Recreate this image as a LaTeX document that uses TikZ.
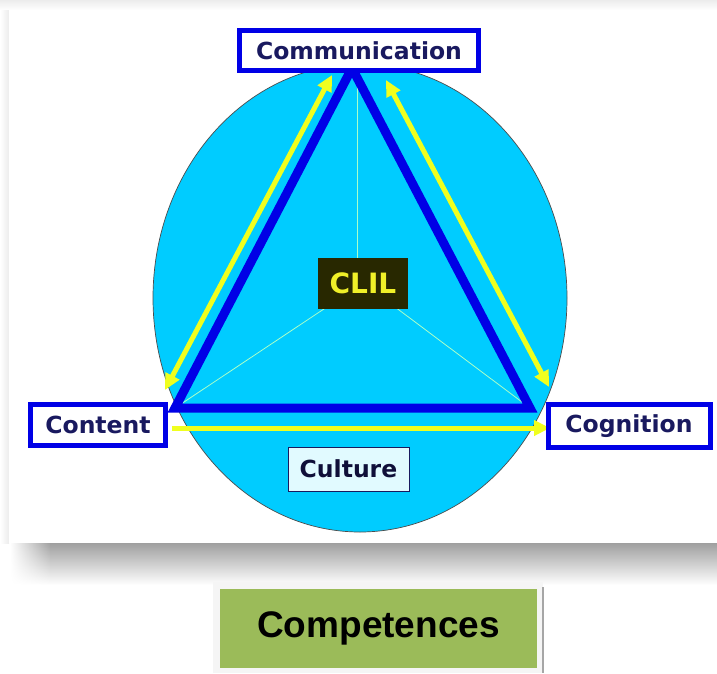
\documentclass[tikz,border=0pt]{standalone}
\usepackage{fontspec}
\usetikzlibrary{arrows.meta,fadings}
\newfontfamily\dv{DejaVu Sans}
\newfontfamily\lib{Liberation Sans}
\definecolor{cyanfill}{RGB}{0,204,255}
\definecolor{tblue}{RGB}{0,0,230}
\definecolor{navy}{RGB}{25,25,95}
\definecolor{ayellow}{RGB}{240,255,30}
\definecolor{paleline}{RGB}{170,255,200}
\definecolor{clilfill}{RGB}{40,40,0}
\definecolor{cliltext}{RGB}{240,240,40}
\definecolor{culturefill}{RGB}{225,250,255}
\definecolor{compgreen}{RGB}{155,187,89}
\tikzfading[name=fadeinright, left color=transparent!100, right color=transparent!0]
\tikzset{
  labelbox/.style={draw=tblue, line width=5pt, fill=white, text=navy,
    font=\dv\bfseries\fontsize{23.5}{23.5}\selectfont, inner sep=0pt},
  yarrow/.style={draw=ayellow, line width=5pt, {Triangle[length=16pt,width=15pt]}-{Triangle[length=16pt,width=15pt]}},
  yarrowone/.style={draw=ayellow, line width=5pt, -{Triangle[length=16pt,width=15pt]}},
  triside/.style={draw=tblue, line width=9pt, line join=miter},
  spoke/.style={draw=paleline, line width=0.8pt},
}
\begin{document}
\begin{tikzpicture}[x=1pt,y=-1pt]
\useasboundingbox (0,0) rectangle (717,673);
% card shadows
\shade[top color=gray!15, bottom color=white] (0,0) rectangle (717,10);
\shade[left color=white, right color=gray!15] (0,10) rectangle (9,543);
\shade[top color=gray!75, bottom color=white] (50,543) rectangle (717,585);
\shade[top color=gray!75, bottom color=white, path fading=fadeinright] (10,543) rectangle (50.5,585);
\fill[white] (9,10) rectangle (717,543);
% circle
\draw[fill=cyanfill, draw=black!70, line width=0.7pt] (360,298) ellipse [x radius=207, y radius=234];
% vertices and centre
\coordinate (apex) at (352,68);
\coordinate (vl) at (175,408);
\coordinate (vr) at (530,408);
\coordinate (ctr) at (363,283);
\draw[spoke] (357,68) -- (357,283);
\draw[spoke] (ctr) -- (vl);
\draw[spoke] (ctr) -- (vr);
% yellow arrows
\coordinate (ylA) at (165,390);
\coordinate (ylB) at (332,75);
\coordinate (yrA) at (386,80);
\coordinate (yrB) at (549,387);
\coordinate (ybA) at (172,428);
\coordinate (ybB) at (550,428);
\draw[yarrow] (ylA) -- (ylB);
\draw[yarrow] (yrA) -- (yrB);
\draw[yarrowone] (ybA) -- (ybB);
% triangle
\draw[triside] (apex) -- (vl) -- (vr) -- cycle;
% labels
\node[labelbox, minimum width=239pt, minimum height=40pt] (comm) at (359,50.5) {Communication};
\node[labelbox, minimum width=135pt, minimum height=41pt] (cont) at (98,425) {Content};
\node[labelbox, minimum width=162pt, minimum height=43pt] (cogn) at (629,426) {Cognition};
\node[draw=navy, line width=1pt, fill=culturefill, text=navy!60!black,
  font=\dv\bfseries\fontsize{23.5}{23.5}\selectfont, inner sep=0pt,
  minimum width=121pt, minimum height=44pt] (cult) at (348.5,469) {Culture};
\node[fill=clilfill, text=cliltext, font=\dv\bfseries\fontsize{28}{28}\selectfont,
  inner sep=0pt, minimum width=90pt, minimum height=51pt] (clil) at (363,283.5) {CLIL};
% competences
\fill[gray!8] (213,582) rectangle (543,673);
\draw[gray!70, line width=1.5pt] (543,587) -- (543,673);
\node[fill=compgreen, text=black, font=\lib\bfseries\fontsize{37}{37}\selectfont,
  inner sep=0pt, minimum width=317pt, minimum height=79pt] (comp) at (378.5,628.5) {Competences};
\end{tikzpicture}
\end{document}
